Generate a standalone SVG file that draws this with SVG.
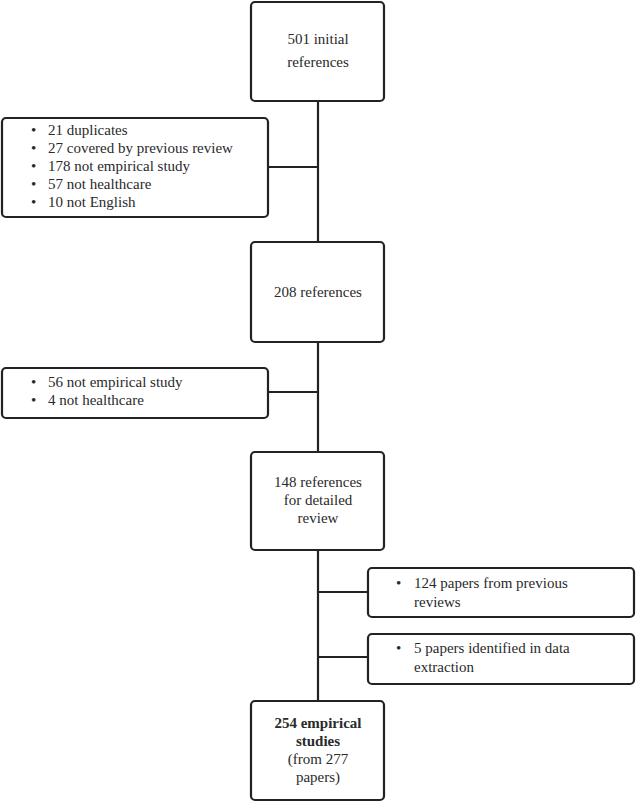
<svg xmlns="http://www.w3.org/2000/svg" width="636" height="802" viewBox="0 0 636 802">
<style>
.box{fill:#fff;stroke:#222;stroke-width:2.2}
.ln{stroke:#222;stroke-width:2.2;fill:none}
text{font-family:"Liberation Serif","DejaVu Serif",serif;font-size:15px;fill:#2a2a2a}
.c{text-anchor:middle}
.b{font-weight:bold}
</style>
<rect width="636" height="802" fill="#fff"/>
<g id="connectors">
<line class="ln" x1="318" y1="101" x2="318" y2="701"/>
<line class="ln" x1="268" y1="167" x2="318" y2="167"/>
<line class="ln" x1="268" y1="392" x2="318" y2="392"/>
<line class="ln" x1="318" y1="592" x2="368" y2="592"/>
<line class="ln" x1="318" y1="657" x2="368" y2="657"/>
</g>
<g id="n1">
<rect class="box" x="251" y="2" width="133" height="99" rx="4"/>
<text class="c" x="318" y="44">501 initial</text>
<text class="c" x="318" y="67">references</text>
</g>
<g id="ex1">
<rect class="box" x="2" y="118" width="266" height="99" rx="4"/>
<text x="31" y="135">•</text><text x="48" y="135">21 duplicates</text>
<text x="31" y="153">•</text><text x="48" y="153">27 covered by previous review</text>
<text x="31" y="171">•</text><text x="48" y="171">178 not empirical study</text>
<text x="31" y="189">•</text><text x="48" y="189">57 not healthcare</text>
<text x="31" y="207">•</text><text x="48" y="207">10 not English</text>
</g>
<g id="n2">
<rect class="box" x="251" y="242" width="133" height="100" rx="4"/>
<text class="c" x="318" y="297">208 references</text>
</g>
<g id="ex2">
<rect class="box" x="2" y="368" width="266" height="50" rx="4"/>
<text x="31" y="387">•</text><text x="48" y="387">56 not empirical study</text>
<text x="31" y="405">•</text><text x="48" y="405">4 not healthcare</text>
</g>
<g id="n3">
<rect class="box" x="251" y="452" width="133" height="98" rx="4"/>
<text class="c" x="318" y="487">148 references</text>
<text class="c" x="318" y="505">for detailed</text>
<text class="c" x="318" y="523">review</text>
</g>
<g id="add1">
<rect class="box" x="368" y="568" width="266" height="49" rx="4"/>
<text x="396" y="588">•</text><text x="414" y="588">124 papers from previous</text>
<text x="414" y="607">reviews</text>
</g>
<g id="add2">
<rect class="box" x="368" y="634" width="266" height="50" rx="4"/>
<text x="396" y="653">•</text><text x="414" y="653">5 papers identified in data</text>
<text x="414" y="672">extraction</text>
</g>
<g id="n4">
<rect class="box" x="251" y="701" width="133" height="99" rx="4"/>
<text class="c b" x="318" y="728">254 empirical</text>
<text class="c b" x="318" y="746">studies</text>
<text class="c" x="318" y="764">(from 277</text>
<text class="c" x="318" y="782">papers)</text>
</g>
</svg>
